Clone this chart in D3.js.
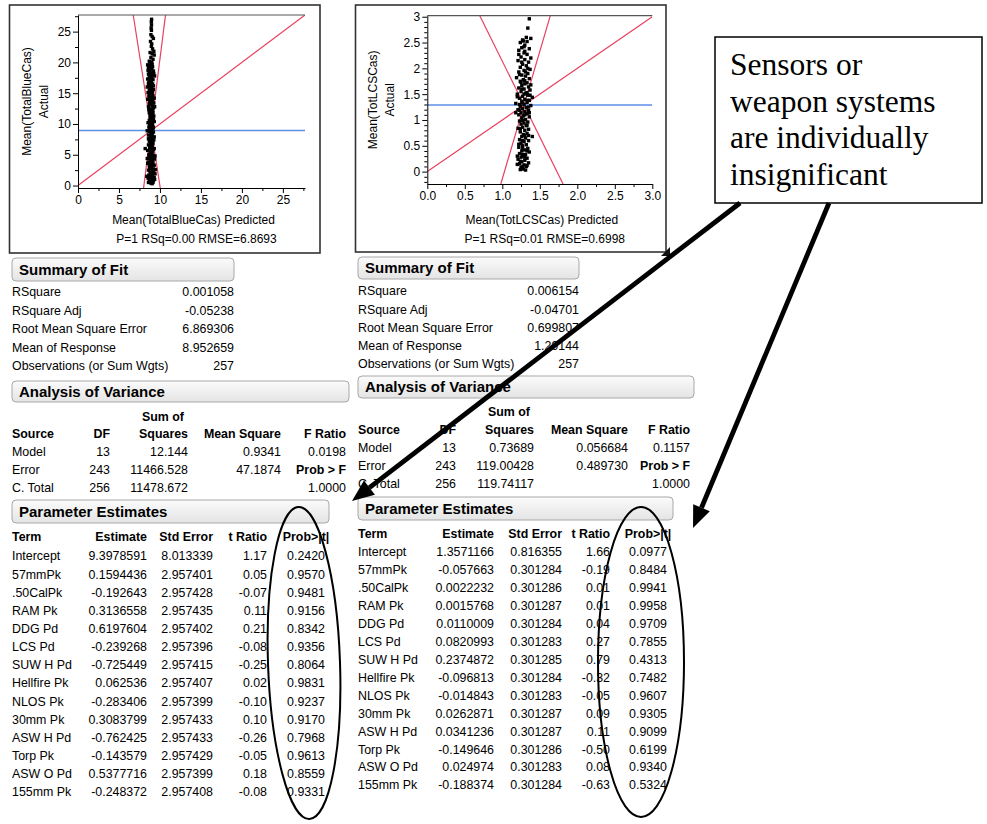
<!DOCTYPE html>
<html><head><meta charset="utf-8">
<script src="https://cdn.jsdelivr.net/npm/d3@7"></script>
<style>body{margin:0;background:#fff}svg{display:block}text{font-family:Arial,"Liberation Sans",sans-serif;fill:#000}text.serif{font-family:"Liberation Serif","Times New Roman",serif}</style>
</head><body><svg id="c" width="987" height="824"></svg>
<script>
// ---------------- DATA ----------------
const blueCasPoints = [
[8.98,27.0],[8.95,26.6],[8.97,26.1],[8.93,25.6],[8.96,25.2],[8.9,24.5],[9.05,24.2],[9.2,23.9],[8.85,23.4],[9.0,23.0],[8.95,22.6],[9.1,22.2],[9.25,21.8],[8.8,21.6],[9.05,21.4],[9.3,21.2],[8.9,20.8],[9.15,20.5],[8.7,20.2],[9.0,20.0],
[8.5,19.6],[8.7,19.5],[8.9,19.4],[9.1,19.3],[8.6,19.2],[8.8,19.0],[9.0,18.9],[8.55,18.7],[9.2,18.6],[8.75,18.4],[8.95,18.3],[8.6,18.1],[9.1,18.0],[8.85,17.8],[8.7,17.6],[9.0,17.5],[8.5,17.3],[9.15,17.2],[8.8,17.0],
[8.65,16.8],[8.95,16.7],[9.1,16.5],[8.75,16.3],[8.6,16.1],[9.0,16.0],[8.85,15.8],[9.2,15.6],[8.7,15.5],[8.95,15.3],[8.55,15.1],[9.05,15.0],[8.8,14.8],[9.15,14.6],[8.65,14.5],[8.9,14.3],[9.0,14.1],
[8.75,13.9],[9.1,13.8],[8.85,13.6],[9.25,13.4],[8.7,13.3],[8.95,13.1],[9.05,12.9],[8.6,12.8],[9.2,12.6],[8.8,12.4],[9.0,12.3],[8.9,12.1],[9.15,11.9],[8.7,11.8],[8.95,11.6],[9.1,11.4],[8.8,11.3],[9.05,11.1],
[8.85,10.9],[9.2,10.8],[8.7,10.6],[9.0,10.5],[8.9,10.3],[9.1,10.1],[8.75,10.0],[9.05,9.8],[8.95,9.6],[8.65,9.5],[9.15,9.3],[8.85,9.2],[9.0,9.0],[8.7,8.8],[9.2,8.7],[8.9,8.5],[9.05,8.3],[8.6,8.2],[8.95,8.0],
[9.1,7.9],[8.8,7.7],[8.95,7.5],[9.25,7.4],[8.7,7.2],[9.0,7.1],[8.85,6.9],[9.15,6.8],[8.6,6.6],[8.95,6.5],[8.2,6.0],[9.05,6.3],[8.75,6.1],[9.3,6.0],[8.9,5.8],[8.5,5.7],[9.1,5.5],[8.8,5.3],[9.0,5.2],[8.65,5.0],
[9.2,4.9],[8.9,4.7],[8.7,4.6],[9.05,4.4],[9.35,4.3],[8.8,4.1],[9.0,4.0],[8.6,3.8],[9.15,3.7],[8.85,3.5],[9.3,3.3],[8.7,3.2],[9.0,3.0],[8.9,2.8],[9.45,2.6],[8.6,2.5],[9.1,2.4],[8.8,2.2],[9.25,2.1],
[8.95,1.9],[8.65,1.7],[9.1,1.6],[8.8,1.4],[9.3,1.3],[8.55,1.2],[9.0,1.1],[8.85,0.9],[9.2,0.8],[8.7,0.7],[9.05,0.6],[8.9,0.4],[9.35,1.0],[8.6,0.5],
[8.8,19.8],[9.05,19.7],[8.65,18.9],[9.25,18.2],[8.9,17.4],[8.6,16.6],[9.2,16.2],[8.8,15.9],[9.1,15.2],[8.7,14.9],[9.3,14.2],[8.8,13.5],[9.0,13.7],[8.65,12.3],[9.1,12.2],[8.85,11.0],[9.3,10.4],[8.8,9.9],[9.2,9.5],[8.75,9.1],
[9.1,8.6],[8.85,8.1],[8.6,7.6],[9.1,7.3],[8.8,6.4],[9.2,5.9],[8.95,5.6],[8.75,4.9],[9.1,4.2],[8.95,3.4],[8.75,2.9],[9.2,2.7],[8.85,2.0],[9.1,1.8],[8.75,1.2],[9.15,0.5],[9.05,0.3],[8.5,3.6],[9.4,4.8],[8.45,8.9],
[9.35,12.8],[8.5,14.0],[9.35,17.8],[8.45,16.0],[9.25,11.3],[8.55,10.2],[9.3,7.9],[8.45,4.4],[9.4,1.9],[8.4,1.5]
];
const lcsCasPoints = [
[1.36,2.96],[1.34,2.78],[1.32,2.6],[1.38,2.58],[1.27,2.55],[1.33,2.52],[1.24,2.5],[1.3,2.45],[1.26,2.4],[1.36,2.38],[1.22,2.35],[1.29,2.3],[1.33,2.27],[1.25,2.22],[1.38,2.2],[1.3,2.17],[1.21,2.15],[1.35,2.12],[1.27,2.08],[1.32,2.05],
[1.24,2.02],[1.37,1.98],[1.29,1.96],[1.22,1.93],[1.34,1.9],[1.26,1.87],[1.31,1.85],[1.19,1.82],[1.36,1.8],[1.28,1.78],[1.24,1.75],[1.33,1.72],[1.3,1.7],[1.26,1.67],[1.35,1.64],[1.22,1.62],[1.29,1.6],[1.37,1.58],[1.25,1.55],[1.31,1.52],
[1.2,1.5],[1.34,1.48],[1.27,1.46],[1.4,1.44],[1.23,1.42],[1.3,1.4],[1.36,1.38],[1.26,1.36],[1.33,1.34],[1.18,1.32],[1.29,1.3],[1.38,1.28],[1.24,1.26],[1.32,1.24],[1.27,1.22],[1.21,1.2],[1.35,1.18],[1.3,1.16],[1.25,1.14],[1.33,1.12],
[1.22,1.1],[1.28,1.08],[1.36,1.06],[1.26,1.04],[1.31,1.01],[1.23,0.98],[1.34,0.96],[1.29,0.94],[1.25,0.92],[1.32,0.89],[1.27,0.86],[1.21,0.84],[1.35,0.82],[1.3,0.8],[1.24,0.77],[1.33,0.74],[1.28,0.72],[1.4,0.68],[1.26,0.68],[1.31,0.65],
[1.23,0.62],[1.35,0.6],[1.29,0.58],[1.25,0.55],[1.32,0.52],[1.27,0.5],[1.22,0.47],[1.34,0.45],[1.3,0.42],[1.26,0.4],[1.36,0.38],[1.23,0.35],[1.31,0.33],[1.28,0.3],[1.25,0.28],[1.33,0.26],[1.21,0.24],[1.3,0.22],[1.26,0.19],[1.35,0.17],
[1.23,0.15],[1.29,0.13],[1.32,0.1],[1.25,0.08],[1.28,0.05],[1.31,0.03],[1.24,0.04],
[1.3,2.33],[1.26,2.12],[1.34,2.0],[1.23,1.88],[1.3,1.76],[1.26,1.6],[1.33,1.53],[1.2,1.45],[1.27,1.33],[1.35,1.25],[1.23,1.19],[1.3,1.1],[1.27,0.99],[1.33,0.9],[1.24,0.83],[1.3,0.7],[1.27,0.6],[1.22,0.53],[1.33,0.4],[1.27,0.33],
[1.3,0.28],[1.24,0.2],[1.33,0.12],[1.27,0.1],[1.2,0.14],[1.37,1.48],[1.18,1.14],[1.38,1.68],[1.29,2.42],[1.35,0.7],[1.2,0.3],[1.34,1.38],[1.25,1.73],[1.31,1.93],[1.22,2.27],[1.28,2.53],[1.23,1.3],[1.36,1.14],[1.29,1.5],[1.27,0.45]
];
const blueMean = 8.952659;
const lcsMean = 1.29144;
const blueConfLines = [[[6.74,27.7],[10.04,-0.4]],[[10.68,27.7],[8.0,-0.4]]];
const lcsConfLines = [[[0.70,3.02],[1.81,-0.24]],[[1.64,3.02],[0.98,-0.24]]];
const blueTicks = [0,5,10,15,20,25];
const blueMinor = [2.5,7.5,12.5,17.5,22.5,27.5];
const lcsXTicks = [0,0.5,1,1.5,2,2.5,3];
const lcsXMinor = [0.25,0.75,1.25,1.75,2.25,2.75];
const lcsYTicks = [0,0.5,1,1.5,2,2.5,3];
const lcsYMinor = [-0.2,-0.1,0.1,0.2,0.3,0.4,0.6,0.7,0.8,0.9,1.1,1.2,1.3,1.4,1.6,1.7,1.8,1.9,2.1,2.2,2.3,2.4,2.6,2.7,2.8,2.9];

const summaryLabels = ["RSquare","RSquare Adj","Root Mean Square Error","Mean of Response","Observations (or Sum Wgts)"];
const blueSummary = ["0.001058","-0.05238","6.869306","8.952659","257"];
const lcsSummary = ["0.006154","-0.04701","0.699807","1.29144","257"];

const anovaSources = ["Model","Error","C. Total"];
const anovaDF = ["13","243","256"];
const blueSS = ["12.144","11466.528","11478.672"];
const blueMS = ["0.9341","47.1874",""];
const blueF = ["0.0198","Prob > F","1.0000"];
const lcsSS = ["0.73689","119.00428","119.74117"];
const lcsMS = ["0.056684","0.489730",""];
const lcsF = ["0.1157","Prob > F","1.0000"];

const paramTerms = ["Intercept","57mmPk",".50CalPk","RAM Pk","DDG Pd","LCS Pd","SUW H Pd","Hellfire Pk","NLOS Pk","30mm Pk","ASW H Pd","Torp Pk","ASW O Pd","155mm Pk"];
const blueEst = ["9.3978591","0.1594436","-0.192643","0.3136558","0.6197604","-0.239268","-0.725449","0.062536","-0.283406","0.3083799","-0.762425","-0.143579","0.5377716","-0.248372"];
const blueSE = ["8.013339","2.957401","2.957428","2.957435","2.957402","2.957396","2.957415","2.957407","2.957399","2.957433","2.957433","2.957429","2.957399","2.957408"];
const blueT = ["1.17","0.05","-0.07","0.11","0.21","-0.08","-0.25","0.02","-0.10","0.10","-0.26","-0.05","0.18","-0.08"];
const blueP = ["0.2420","0.9570","0.9481","0.9156","0.8342","0.9356","0.8064","0.9831","0.9237","0.9170","0.7968","0.9613","0.8559","0.9331"];
const lcsEst = ["1.3571166","-0.057663","0.0022232","0.0015768","0.0110009","0.0820993","0.2374872","-0.096813","-0.014843","0.0262871","0.0341236","-0.149646","0.024974","-0.188374"];
const lcsSE = ["0.816355","0.301284","0.301286","0.301287","0.301284","0.301283","0.301285","0.301284","0.301283","0.301287","0.301287","0.301286","0.301283","0.301284"];
const lcsT = ["1.66","-0.19","0.01","0.01","0.04","0.27","0.79","-0.32","-0.05","0.09","0.11","-0.50","0.08","-0.63"];
const lcsP = ["0.0977","0.8484","0.9941","0.9958","0.9709","0.7855","0.4313","0.7482","0.9607","0.9305","0.9099","0.6199","0.9340","0.5324"];

const calloutLines = ["Sensors or","weapon systems","are individually","insignificant"];

// ---------------- DRAW ----------------
const FS = 12.4;
const svg = d3.select("#c");
svg.append("rect").attr("width",987).attr("height",824).attr("fill","#fff");
const defs = svg.append("defs");
const grad = defs.append("linearGradient").attr("id","hdr").attr("x1",0).attr("y1",0).attr("x2",0).attr("y2",1);
grad.append("stop").attr("offset","0%").attr("stop-color","#fbfbfb");
grad.append("stop").attr("offset","100%").attr("stop-color","#e4e4e4");

const RED = "#e8405e", BLUE = "#5b8fe8";

function plot(o){
  const g = svg.append("g");
  g.append("rect").attr("x",o.frame[0]).attr("y",o.frame[1]).attr("width",o.frame[2]-o.frame[0]).attr("height",o.frame[3]-o.frame[1])
    .attr("fill","#fff").attr("stroke","#333").attr("stroke-width",1.6);
  const x = d3.scaleLinear().domain(o.xd).range(o.xr);
  const y = d3.scaleLinear().domain(o.yd).range(o.yr);
  const cid = "clip"+o.id;
  defs.append("clipPath").attr("id",cid).append("rect")
    .attr("x",o.xr[0]).attr("y",o.yr[1]).attr("width",o.xr[1]-o.xr[0]).attr("height",o.yr[0]-o.yr[1]);
  const pg = g.append("g").attr("clip-path",`url(#${cid})`);
  g.append("line").attr("x1",o.xr[0]).attr("x2",o.xr[1]).attr("y1",o.yr[1]).attr("y2",o.yr[1]).attr("stroke","#555").attr("stroke-width",1.2);
  const line = d3.line().x(d=>x(d[0])).y(d=>y(d[1]));
  pg.append("path").attr("d",line([[0,0],[o.xd[1],o.xd[1]]])).attr("stroke",RED).attr("stroke-width",1.2).attr("fill","none");
  o.conf.forEach(c=>pg.append("path").attr("d",line(c)).attr("stroke",RED).attr("stroke-width",1.2).attr("fill","none"));
  pg.append("line").attr("x1",o.xr[0]).attr("x2",o.xr[1]).attr("y1",y(o.mean)).attr("y2",y(o.mean)).attr("stroke",BLUE).attr("stroke-width",1.5);
  pg.selectAll("rect.pt").data(o.pts).join("rect").attr("class","pt")
    .attr("x",d=>x(d[0])-1.7).attr("y",d=>y(d[1])-1.7).attr("width",3.4).attr("height",3.4).attr("fill","#000");
  g.append("g").attr("transform",`translate(0,${o.yr[0]})`)
    .call(d3.axisBottom(x).tickValues(o.xt).tickFormat(o.xf).tickSize(5).tickPadding(2).tickSizeOuter(0));
  g.append("g").attr("transform",`translate(0,${o.yr[0]})`)
    .call(d3.axisBottom(x).tickValues(o.xm).tickFormat("").tickSize(3).tickSizeOuter(0)).select(".domain").remove();
  g.append("g").attr("transform",`translate(${o.xr[0]},0)`)
    .call(d3.axisLeft(y).tickValues(o.yt).tickFormat(o.yf).tickSize(5).tickPadding(2).tickSizeOuter(0));
  g.append("g").attr("transform",`translate(${o.xr[0]},0)`)
    .call(d3.axisLeft(y).tickValues(o.ym).tickFormat("").tickSize(3).tickSizeOuter(0)).select(".domain").remove();
  g.selectAll(".tick text").attr("font-size",12);
  g.selectAll(".domain,.tick line").attr("stroke","#000");
  const cx = (o.xr[0]+o.xr[1])/2, cy = (o.yr[0]+o.yr[1])/2;
  g.append("text").attr("x",cx+2).attr("y",o.xlabY).attr("text-anchor","middle").attr("font-size",12).text(o.xlab);
  g.append("text").attr("x",cx+5).attr("y",o.xlabY+19).attr("text-anchor","middle").attr("font-size",12).text(o.stat);
  g.append("text").attr("transform",`translate(${o.ylabX},${cy}) rotate(-90)`).attr("text-anchor","middle").attr("font-size",12).text(o.ylab);
  g.append("text").attr("transform",`translate(${o.ylabX+17},${cy}) rotate(-90)`).attr("text-anchor","middle").attr("font-size",12).text("Actual");
  return g;
}

plot({id:1,frame:[9.5,5,320,253],xd:[0,27.7],xr:[78,305],yd:[-0.4,27.7],yr:[188,15],
  pts:blueCasPoints,mean:blueMean,conf:blueConfLines,xt:blueTicks,xm:blueMinor,yt:blueTicks,ym:blueMinor,
  xf:d=>String(d),yf:d=>String(d),xlab:"Mean(TotalBlueCas) Predicted",stat:"P=1 RSq=0.00 RMSE=6.8693",xlabY:224,ylab:"Mean(TotalBlueCas)",ylabX:31});
plot({id:2,frame:[355.5,5,666,252],xd:[0,3.0],xr:[427.3,652.3],yd:[-0.24,3.02],yr:[184,15.7],
  pts:lcsCasPoints,mean:lcsMean,conf:lcsConfLines,xt:lcsXTicks,xm:lcsXMinor,yt:lcsYTicks,ym:lcsYMinor,
  xf:d3.format(".1f"),yf:d=>String(d),xlab:"Mean(TotLCSCas) Predicted",stat:"P=1 RSq=0.01 RMSE=0.6998",xlabY:224,ylab:"Mean(TotLCSCas)",ylabX:377});
svg.append("path").attr("d","M670,247 L670,256 L661,256 Z").attr("fill","#111");

function header(x0,x1,y0,y1,label){
  svg.append("rect").attr("x",x0).attr("y",y0).attr("width",x1-x0).attr("height",y1-y0).attr("rx",4)
    .attr("fill","url(#hdr)").attr("stroke","#a8a8a8").attr("stroke-width",1);
  svg.append("text").attr("x",x0+7).attr("y",(y0+y1)/2+5.3).attr("font-size",15).attr("font-weight","bold").text(label);
}
function col(values,xPos,rowY,anchor,bold){
  svg.append("g").selectAll("text").data(values).join("text")
    .attr("x",xPos).attr("y",(d,i)=>rowY(i)+4.4).attr("text-anchor",anchor).attr("font-size",FS)
    .attr("font-weight",d=> (bold && bold(d)) ? "bold":"normal").text(d=>d);
}
function summary(o){
  header(o.x0,o.x1,o.hy0,o.hy1,"Summary of Fit");
  const ry = d3.scaleLinear().domain([0,4]).range(o.rows);
  col(summaryLabels,o.x0,ry,"start");
  col(o.vals,o.x1,ry,"end");
}
function anova(o){
  header(o.x0,o.bx1,o.hy0,o.hy1,"Analysis of Variance");
  const ry = d3.scaleLinear().domain([0,2]).range(o.rows);
  const hy = d3.scaleLinear().domain([0,1]).range([o.sumY,o.headY]);
  const bold = ()=>true;
  col(["Sum of"],o.cSS-25,i=>hy(0),"middle",bold);
  col(["Source"],o.x0,i=>hy(1),"start",bold);
  col(["DF"],o.cDF,i=>hy(1),"end",bold);
  col(["Squares"],o.cSS,i=>hy(1),"end",bold);
  col(["Mean Square"],o.cMS,i=>hy(1),"end",bold);
  col(["F Ratio"],o.cF,i=>hy(1),"end",bold);
  col(anovaSources,o.x0,ry,"start");
  col(anovaDF,o.cDF,ry,"end");
  col(o.ss,o.cSS,ry,"end");
  col(o.ms,o.cMS,ry,"end");
  col(o.f,o.cF,ry,"end",d=>d==="Prob > F");
}
function params(o){
  header(o.x0,o.bx1,o.hy0,o.hy1,"Parameter Estimates");
  const ry = d3.scaleLinear().domain([0,paramTerms.length-1]).range(o.rows);
  const bold = ()=>true;
  const h = ()=>o.headY;
  col(["Term"],o.x0,h,"start",bold);
  col(["Estimate"],o.cE,h,"end",bold);
  col(["Std Error"],o.cS,h,"end",bold);
  col(["t Ratio"],o.cT,h,"end",bold);
  col(["Prob>|t|"],o.cP,h,"middle",bold);
  col(paramTerms,o.x0,ry,"start");
  col(o.est,o.cE,ry,"end");
  col(o.se,o.cS,ry,"end");
  col(o.t,o.cT,ry,"end");
  col(o.p,o.cP,ry,"middle");
}

summary({x0:12,x1:234,hy0:258,hy1:281,rows:[292,366],vals:blueSummary});
summary({x0:358,x1:579,hy0:257,hy1:279,rows:[291,363.5],vals:lcsSummary});
anova({x0:12,bx1:349,hy0:381,hy1:402,sumY:417,headY:434,rows:[452,488],cDF:110,cSS:188,cMS:281,cF:346,ss:blueSS,ms:blueMS,f:blueF});
anova({x0:358,bx1:694,hy0:376,hy1:398,sumY:412,headY:430,rows:[448,484],cDF:456,cSS:534,cMS:628,cF:690,ss:lcsSS,ms:lcsMS,f:lcsF});
params({x0:12,bx1:329,hy0:500,hy1:523,headY:537,rows:[556,792],cE:147,cS:213,cT:267,cP:306,est:blueEst,se:blueSE,t:blueT,p:blueP});
params({x0:358,bx1:673,hy0:497,hy1:520,headY:534,rows:[552,785],cE:494,cS:562,cT:610,cP:648,est:lcsEst,se:lcsSE,t:lcsT,p:lcsP});

svg.append("ellipse").attr("cx",304).attr("cy",663).attr("rx",36).attr("ry",156)
  .attr("transform","rotate(-2,304,663)").attr("fill","none").attr("stroke","#000").attr("stroke-width",2);
svg.append("ellipse").attr("cx",641).attr("cy",662).attr("rx",43).attr("ry",155)
  .attr("fill","none").attr("stroke","#000").attr("stroke-width",2);

svg.append("rect").attr("x",715).attr("y",37).attr("width",267).attr("height",166)
  .attr("fill","#fff").attr("stroke","#000").attr("stroke-width",1.5);
svg.append("g").selectAll("text").data(calloutLines).join("text").attr("class","serif")
  .attr("x",730).attr("y",(d,i)=>75+i*36.7)
  .style("font-family","'Liberation Serif','Times New Roman',serif")
  .attr("font-size",31.5).text(d=>d);

function arrow(x1,y1,x2,y2){
  const a = Math.atan2(y2-y1,x2-x1), L=22, W=9;
  const bx = x2-L*Math.cos(a), by = y2-L*Math.sin(a);
  svg.append("line").attr("x1",x1).attr("y1",y1).attr("x2",bx).attr("y2",by).attr("stroke","#000").attr("stroke-width",4.8);
  const px = -Math.sin(a), py = Math.cos(a);
  svg.append("path").attr("d",`M${x2},${y2} L${bx+W*px},${by+W*py} L${bx-W*px},${by-W*py} Z`).attr("fill","#000");
}
arrow(740,203,352,501);
arrow(829,203,693,528);
</script></body></html>
